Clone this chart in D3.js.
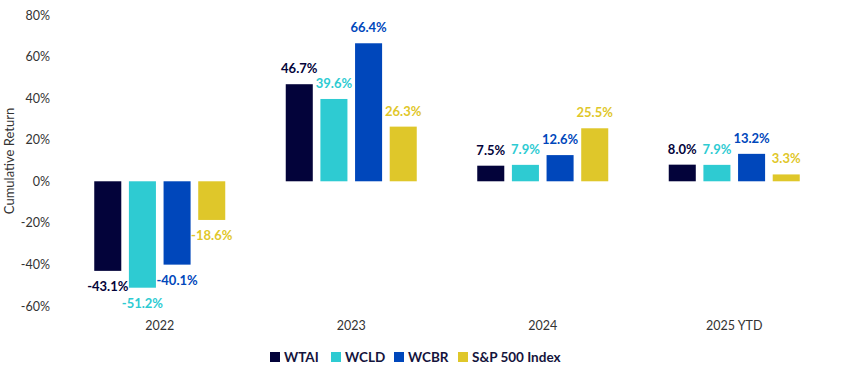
<!DOCTYPE html>
<html>
<head>
<meta charset="utf-8">
<script src="https://cdn.jsdelivr.net/npm/d3@7"></script>
<style>
  body { margin: 0; background: #fff; }
  text { font-family: Lato, "Noto Sans", sans-serif; }
</style>
</head>
<body>
<svg id="chart" width="844" height="371"></svg>
<script>
// Chart data
const periods = ["2022", "2023", "2024", "2025 YTD"];
const seriesNames = ["WTAI", "WCLD", "WCBR", "S&P 500 Index"];
const wtai = [-43.1, 46.7, 7.5, 8.0];
const wcld = [-51.2, 39.6, 7.9, 7.9];
const wcbr = [-40.1, 66.4, 12.6, 13.2];
const spx = [-18.6, 26.3, 25.5, 3.3];
const yTicks = [-60, -40, -20, 0, 20, 40, 60, 80];

const seriesValues = [wtai, wcld, wcbr, spx];
const colors = ["#03033a", "#2ecbd2", "#0047bb", "#dfc72a"];

const svg = d3.select("#chart");
const margin = { top: 15, right: 14, bottom: 65, left: 64 };
const width = 844 - margin.left - margin.right;

// y: 80% -> ~15, -60% -> ~306
const y = d3.scaleLinear()
  .domain([-60, 80])
  .range([306, 15]);

const x0 = d3.scaleBand()
  .domain(periods)
  .range([margin.left, margin.left + width])
  .padding(0);

const groupWidth = 131;
const x1 = d3.scaleBand()
  .domain(seriesNames)
  .range([-groupWidth / 2, groupWidth / 2])
  .paddingInner(0.22);

// Y axis labels (no line, no grid)
const yAxis = d3.axisLeft(y)
  .tickValues(yTicks)
  .tickFormat(d => d + "%")
  .tickSize(0)
  .tickPadding(0);

svg.append("g")
  .attr("transform", "translate(50, 0)")
  .call(yAxis)
  .call(g => g.select(".domain").remove())
  .selectAll("text")
  .attr("font-size", 12.5)
  .attr("fill", "#333")
  .style("font-family", "Lato, sans-serif");

svg.append("text")
  .attr("transform", "translate(14, 161) rotate(-90)")
  .attr("text-anchor", "middle")
  .attr("font-size", 13)
  .attr("fill", "#333")
  .text("Cumulative Return");

// X axis labels
const xAxis = d3.axisBottom(x0).tickSize(0).tickPadding(0);
svg.append("g")
  .attr("transform", "translate(0, 321)")
  .call(xAxis)
  .call(g => g.select(".domain").remove())
  .selectAll("text")
  .attr("font-size", 12.5)
  .attr("fill", "#333")
  .style("font-family", "Lato, sans-serif");

// Bars
const rows = [];
periods.forEach((p, i) => {
  seriesNames.forEach((s, j) => {
    rows.push({ period: p, series: s, value: seriesValues[j][i], color: colors[j] });
  });
});

const groups = svg.append("g");
const cx = d => x0(d.period) + x0.bandwidth() / 2 + x1(d.series);

groups.selectAll("rect")
  .data(rows)
  .enter()
  .append("rect")
  .attr("x", d => cx(d))
  .attr("width", x1.bandwidth())
  .attr("y", d => y(Math.max(0, d.value)))
  .attr("height", d => Math.abs(y(d.value) - y(0)))
  .attr("fill", d => d.color);

// Value labels
groups.selectAll("text.val")
  .data(rows)
  .enter()
  .append("text")
  .attr("class", "val")
  .attr("x", d => cx(d) + x1.bandwidth() / 2)
  .attr("y", d => d.value >= 0 ? y(d.value) - 11 : y(d.value) + 20)
  .attr("text-anchor", "middle")
  .attr("font-size", 13)
  .attr("font-weight", "bold")
  .attr("fill", d => d.color)
  .text(d => d.value.toFixed(1) + "%");

// Legend
const legendX = [270, 331, 394, 458];
const legend = svg.append("g").attr("transform", "translate(0, 357)");
seriesNames.forEach((s, j) => {
  legend.append("rect")
    .attr("x", legendX[j])
    .attr("y", -5)
    .attr("width", 10)
    .attr("height", 10)
    .attr("fill", colors[j]);
  legend.append("text")
    .attr("x", legendX[j] + 14)
    .attr("y", 5)
    .attr("font-size", 13.5)
    .attr("font-weight", "bold")
    .attr("fill", "#14143c")
    .text(s);
});
</script>
</body>
</html>
